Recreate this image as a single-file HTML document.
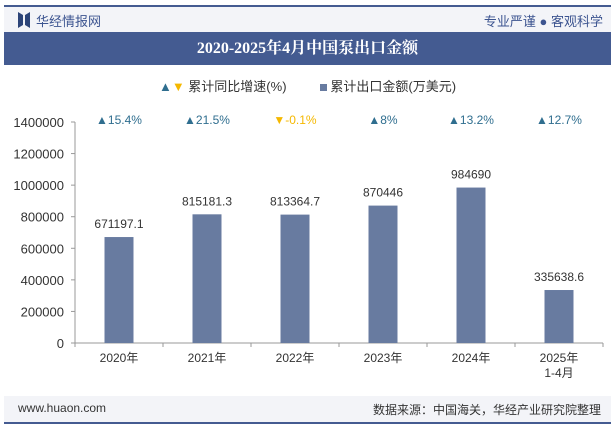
<!DOCTYPE html>
<html><head><meta charset="utf-8"><style>
body{margin:0;width:615px;height:427px;overflow:hidden;background:#fff;font-family:"Liberation Sans","Noto Sans CJK SC",sans-serif;position:relative}
.abs{position:absolute}
</style></head><body>
<div class="abs" style="left:4px;top:5px;width:607px;height:2px;background:#445b91"></div>
<div class="abs" style="left:4px;top:7px;width:607px;height:25px;background:#f3f4f8"></div>
<svg class="abs" style="left:18px;top:12px" width="12" height="16"><path d="M0 0 L5 3 L5 13 L0 16Z M12 0 L7 3 L7 13 L12 16Z" fill="#2c4478"/></svg>
<div class="abs" style="left:36px;top:11px;font-size:13px;color:#3c5490">华经情报网</div>
<div class="abs" style="right:12px;top:11px;font-size:13px;color:#3c5490">专业严谨 ● 客观科学</div>
<div class="abs" style="left:4px;top:32px;width:607px;height:33px;background:#445b91;color:#fff;font:bold 16px 'Liberation Serif','Noto Serif CJK SC',serif;text-align:center;line-height:33px">2020-2025年4月中国泵出口金额</div>
<div class="abs" style="left:0;top:76px;width:615px;text-align:center;font-size:13px;color:#333">
<span><span style="color:#2f6e8f">▲</span><span style="color:#f5b800">▼</span> 累计同比增速(%)</span>
<span style="display:inline-block;width:26px"></span>
<span><span style="display:inline-block;width:7px;height:7px;background:#687ba0;vertical-align:middle"></span> 累计出口金额(万美元)</span></div>
<svg class="abs" style="left:0;top:0" width="615" height="427" id="chart"></svg>
<div class="abs" style="left:4px;top:396px;width:607px;height:26px;background:#f3f4f8"></div>
<div class="abs" style="left:18px;top:401px;font-size:12px;color:#333">www.huaon.com</div>
<div class="abs" style="right:14px;top:401px;font-size:12px;color:#333">数据来源：中国海关，华经产业研究院整理</div>
<div class="abs" style="left:4px;top:422px;width:607px;height:2px;background:#445b91"></div>
<script>
const categories=["2020年","2021年","2022年","2023年","2024年","2025年|1-4月"];
const amounts=[671197.1,815181.3,813364.7,870446,984690,335638.6];
const amountLabels=["671197.1","815181.3","813364.7","870446","984690","335638.6"];
const growth=[15.4,21.5,-0.1,8,13.2,12.7];
const yTicks=[0,200000,400000,600000,800000,1000000,1200000,1400000];
const svg=document.getElementById('chart');const NS='http://www.w3.org/2000/svg';
const x0=75,x1=603,y0=343,y1=122,ymax=1400000;
const bw=(x1-x0)/categories.length;
const Y=v=>y0-(v/ymax)*(y0-y1);
const X=i=>x0+bw*(i+0.5);
function mk(t,a,txt){const e=document.createElementNS(NS,t);for(const k in a)e.setAttribute(k,a[k]);if(txt!=null)e.textContent=txt;svg.appendChild(e);return e;}
const ya=mk('line',{x1:x0,y1:y1,x2:x0,y2:y0,stroke:'#999'});


yTicks.forEach(v=>{
const t=mk('text',{x:64,y:Y(v)+5,'text-anchor':'end','font-size':13,fill:'#333'},String(v));


mk('line',{x1:x0-4,y1:Y(v),x2:x0,y2:Y(v),stroke:'#999'});
});
const xa=mk('line',{x1:x0,y1:y0,x2:x1,y2:y0,stroke:'#999'});


for(let i=0;i<=categories.length;i++)mk('line',{x1:x0+bw*i,y1:y0,x2:x0+bw*i,y2:y0+4,stroke:'#999'});
categories.forEach((c,i)=>{
const cx=X(i);
const b=mk('rect',{x:cx-14.5,y:Y(amounts[i]),width:29,height:y0-Y(amounts[i]),fill:'#687ba0'});


const l=mk('text',{x:cx,y:Y(amounts[i])-9,'text-anchor':'middle','font-size':12,fill:'#333'},amountLabels[i]);


c.split('|').forEach((p,j)=>{
const t=mk('text',{x:cx,y:362+j*15,'text-anchor':'middle','font-size':12,fill:'#333'},p);


});
const up=growth[i]>=0;
const g=mk('text',{x:cx,y:124,'text-anchor':'middle','font-size':12,fill:up?'#2f6e8f':'#f5b800'},(up?'▲':'▼')+growth[i]+'%');


});
</script>
</body></html>
